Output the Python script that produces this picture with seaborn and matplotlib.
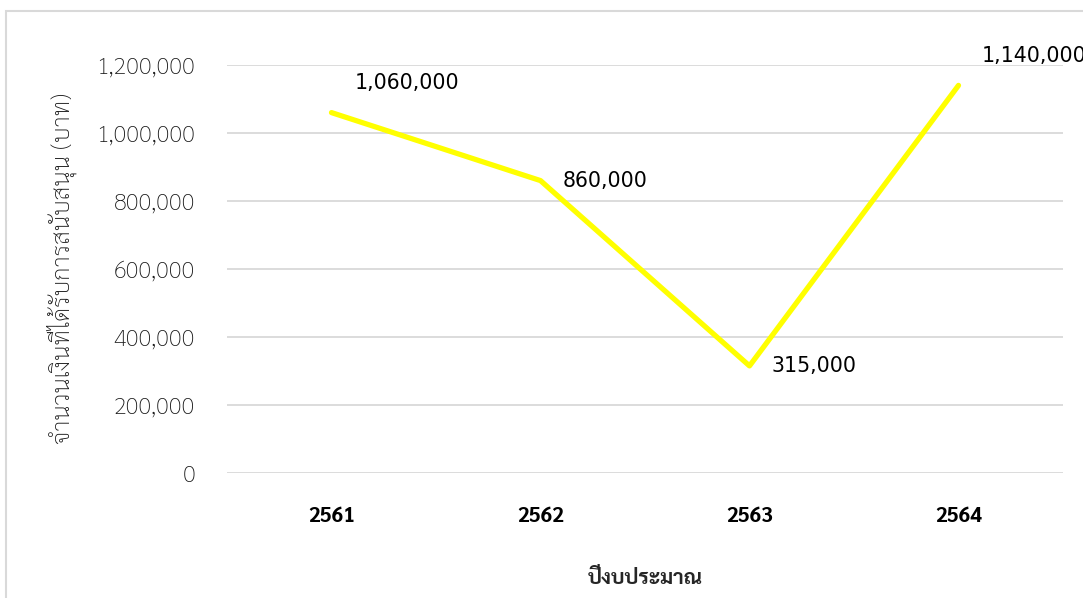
import matplotlib
matplotlib.use("Agg")
import matplotlib.pyplot as plt
from matplotlib.patches import Rectangle
import seaborn as sns
import pandas as pd

years = ["2561", "2562", "2563", "2564"]
amounts = [1060000, 860000, 315000, 1140000]
value_labels = ["1,060,000", "860,000", "315,000", "1,140,000"]
y_ticks = [0, 200000, 400000, 600000, 800000, 1000000, 1200000]
y_title = "จำนวนเงินที่ได้รับการสนับสนุน (บาท)"
x_title = "ปีงบประมาณ"

sns.set_style("white")
plt.rcParams['font.family'] = ['Sarabun', 'DejaVu Sans']

W, H = 1083, 598
fig = plt.figure(figsize=(W/100, H/100), dpi=100)
ax = fig.add_axes([227/W, 1-473/H, (1063-227)/W, (473-65)/H])

df = pd.DataFrame({"year": years, "amount": amounts})
sns.lineplot(data=df, x="year", y="amount", ax=ax, color="#FFFF00",
             linewidth=3.8, solid_capstyle="round", solid_joinstyle="round", zorder=3)

ax.set_xlim(-0.5, 3.5)
ax.set_ylim(0, 1200000)
ax.set_yticks(y_ticks)
ax.set_yticklabels([f"{v:,.0f}" for v in y_ticks], fontsize=17, color="#1a1a1a",
                   fontweight="light", family=['Sarabun', 'DejaVu Sans'])
ax.set_xticks(range(len(years)))
ax.set_xticklabels(years, fontsize=15, fontweight="bold", color="black",
                   family=['Sarabun', 'DejaVu Sans'])
ax.tick_params(axis='y', length=0, pad=23)
ax.tick_params(axis='x', length=0, pad=24)
ax.grid(axis='y', color="#d9d9d9", linewidth=1.3)
ax.grid(axis='x', visible=False)
for s in ax.spines.values():
    s.set_visible(False)

ax.set_xlabel(x_title, fontsize=15, fontweight="bold", labelpad=29,
              family=['Sarabun', 'DejaVu Sans'])
ax.set_ylabel(y_title, fontsize=17.5, color="#1a1a1a", labelpad=14,
              fontweight="light", family=['Sarabun', 'DejaVu Sans'])

# data labels (offsets in points)
offsets = [(17, 21), (16, 0), (16, 0), (17, 21)]
for i, (v, lab) in enumerate(zip(amounts, value_labels)):
    ax.annotate(lab, (i, v), xytext=offsets[i], textcoords="offset points",
                ha="left", va="center", fontsize=14.8, color="black",
                family=['DejaVu Sans'], annotation_clip=False)

# chart border (light gray, extending beyond image right/bottom)
fig.patches.append(Rectangle((6/W, -0.1), 1.2, 1.1 - 11/H,
                             transform=fig.transFigure, fill=False,
                             edgecolor="#d9d9d9", linewidth=1.5))

fig.savefig("out.png", dpi=100, facecolor="white")
